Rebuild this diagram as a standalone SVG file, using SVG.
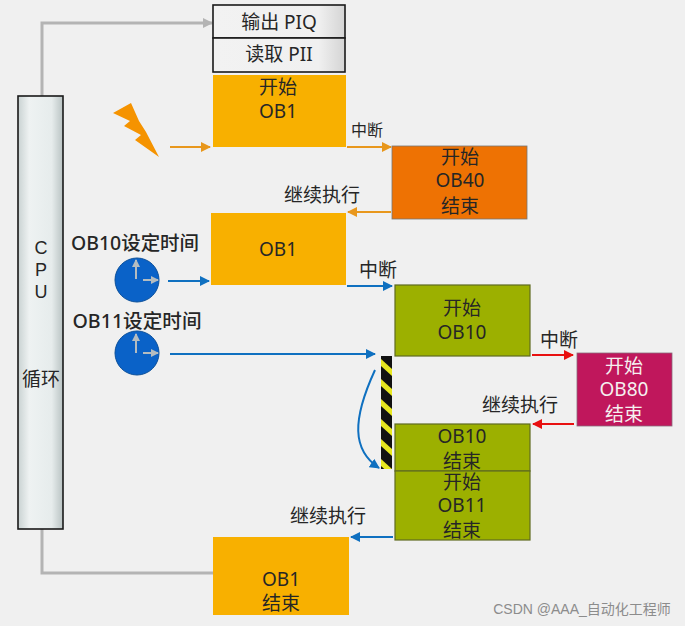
<svg xmlns="http://www.w3.org/2000/svg" width="685" height="626" viewBox="0 0 685 626">
<style>
text{font-family:"Noto Sans","Noto Sans CJK SC",sans-serif;fill:#262626;text-anchor:middle}
.l{font-size:19px}
.s{font-size:19px}
.u{font-size:18px;font-family:"Liberation Sans","Noto Sans CJK SC",sans-serif}
.c{fill:none;stroke-width:2}
.g{fill:none;stroke-width:3}
.or{fill:#f8b000;stroke:none}
.gr{fill:#9cb000;stroke:#5f6b20;stroke-width:1.2}
.io{fill:url(#io);stroke:#1a1a1a;stroke-width:1.6}
.clk{fill:#0a62c8;stroke:#0a4f9a}
.h{stroke:#b4bcc0;stroke-width:2;fill:none}
</style>
<defs>
<linearGradient id="cpu" x1="0" x2="1" y1="0" y2="0"><stop offset="0" stop-color="#c9d2d2"/><stop offset=".25" stop-color="#eef2f2"/><stop offset=".75" stop-color="#e6ecec"/><stop offset="1" stop-color="#b9c3c3"/></linearGradient>
<linearGradient id="io" x1="0" x2="1" y1="0" y2="0"><stop offset="0" stop-color="#f2f2f2"/><stop offset=".8" stop-color="#f0f0f0"/><stop offset="1" stop-color="#d4d4d4"/></linearGradient>
<pattern id="stripe" width="11" height="20" patternUnits="userSpaceOnUse" patternTransform="translate(381 356)"><rect width="11" height="20" fill="#111"/><path d="M0 3L11 13V20L0 10Z" fill="#e8e820"/></pattern>
<marker id="ao" markerWidth="10" markerHeight="10" refX="9" refY="5" orient="auto" markerUnits="userSpaceOnUse"><path d="M0 0L10 5L0 10Z" fill="#e8971c"/></marker>
<marker id="ab" markerWidth="10" markerHeight="10" refX="9" refY="5" orient="auto" markerUnits="userSpaceOnUse"><path d="M0 0L10 5L0 10Z" fill="#0f70c0"/></marker>
<marker id="ar" markerWidth="10" markerHeight="10" refX="9" refY="5" orient="auto" markerUnits="userSpaceOnUse"><path d="M0 0L10 5L0 10Z" fill="#e81010"/></marker>
<marker id="ag" markerWidth="10" markerHeight="10" refX="9" refY="5" orient="auto" markerUnits="userSpaceOnUse"><path d="M0 0L10 5L0 10Z" fill="#b4b4b4"/></marker>
<marker id="aw" markerWidth="8" markerHeight="8" refX="7" refY="4" orient="auto" markerUnits="userSpaceOnUse"><path d="M0 0L8 4L0 8Z" fill="#b4bcc0"/></marker>
</defs>
<rect width="685" height="626" fill="#f0f0f0"/>
<g id="connectors">
<path class="g" d="M42 96V23H212" stroke="#b4b4b4" marker-end="url(#ag)"/>
<path class="g" d="M42 529V573H214" stroke="#b4b4b4"/>
<path class="c" d="M170 147H210" stroke="#e8971c" marker-end="url(#ao)"/>
<path class="c" d="M347 147H391" stroke="#e8971c" marker-end="url(#ao)"/>
<path class="c" d="M391 212H348" stroke="#e8971c" marker-end="url(#ao)"/>
<path class="c" d="M168 281H209" stroke="#0f70c0" marker-end="url(#ab)"/>
<path class="c" d="M347 286H392" stroke="#0f70c0" marker-end="url(#ab)"/>
<path class="c" d="M170 354H375" stroke="#0f70c0" marker-end="url(#ab)"/>
<path class="c" d="M375 370C352 420 352 450 379 468" stroke="#0f70c0" marker-end="url(#ab)"/>
<path class="c" d="M393 537H351" stroke="#0f70c0" marker-end="url(#ab)"/>
<path class="c" d="M532 355H573" stroke="#e81010" marker-end="url(#ar)"/>
<path class="c" d="M574 424H533" stroke="#e81010" marker-end="url(#ar)"/>
</g>
<g id="cpu-node"><rect x="18" y="96" width="45" height="433" fill="url(#cpu)" stroke="#1a1a1a" stroke-width="1.6"/>
<text class="u" x="41" y="254">C</text><text class="u" x="41" y="276">P</text><text class="u" x="41" y="298">U</text><text class="l" x="41" y="386">循环</text></g>
<g id="piq"><rect class="io" x="213" y="5" width="132" height="33"/><text class="l" x="279" y="29">输出 PIQ</text></g>
<g id="pii"><rect class="io" x="213" y="38" width="132" height="34"/><text class="s" x="279" y="61">读取 PII</text></g>
<g id="ob1-start"><rect class="or" x="213" y="75" width="133" height="72"/><text class="l" x="278" y="94">开始</text><text class="l" x="278" y="118">OB1</text></g>
<g id="bolt"><path d="M113 113L131 103L139 121L146 132L159 157L135 140L141 135L124 126L130 121Z" fill="#f59300"/></g>
<g id="ob40"><rect x="392" y="146" width="135" height="73" fill="#ee7203" stroke="#777" stroke-width=".8"/><text class="l" x="460" y="164">开始</text><text class="l" x="460" y="187">OB40</text><text class="l" x="460" y="213">结束</text></g>
<g id="ob1-mid"><rect class="or" x="211" y="213" width="135" height="72"/><text class="l" x="278" y="256">OB1</text></g>
<g id="clock10"><circle class="clk" cx="137" cy="280" r="22"/><path class="h" d="M136 279V260" marker-end="url(#aw)"/><path class="h" d="M143 280H158" marker-end="url(#aw)"/></g>
<g id="clock11"><circle class="clk" cx="137" cy="353" r="22"/><path class="h" d="M136 353V334" marker-end="url(#aw)"/><path class="h" d="M143 353H158" marker-end="url(#aw)"/></g>
<g id="ob10-start"><rect class="gr" x="395" y="285" width="135" height="71"/><text class="l" x="462" y="315">开始</text><text class="l" x="462" y="339">OB10</text></g>
<g id="ob80"><rect x="577" y="353" width="95" height="73" fill="#c0175c" stroke="#8b6a7a" stroke-width=".8"/><text class="l" x="624" y="373" style="fill:#f5f0f0">开始</text><text class="l" x="624" y="396" style="fill:#f5f0f0">OB80</text><text class="l" x="624" y="421" style="fill:#f5f0f0">结束</text></g>
<g id="stripe-bar"><rect x="381" y="356" width="11" height="113" fill="url(#stripe)"/></g>
<g id="ob10-end"><rect class="gr" x="395" y="424" width="135" height="47"/><text class="l" x="462" y="443">OB10</text><text class="l" x="462" y="468">结束</text></g>
<g id="ob11"><rect class="gr" x="395" y="471" width="135" height="69"/><text class="l" x="462" y="489">开始</text><text class="l" x="462" y="512">OB11</text><text class="l" x="462" y="537">结束</text></g>
<g id="ob1-end"><rect class="or" x="213" y="537" width="136" height="78"/><text class="l" x="281" y="586">OB1</text><text class="l" x="281" y="610">结束</text></g>
<g id="labels">
<text x="135" y="250" font-size="19" font-weight="500" textLength="128" lengthAdjust="spacingAndGlyphs">OB10设定时间</text>
<text x="137" y="328" font-size="19" font-weight="500" textLength="129" lengthAdjust="spacingAndGlyphs">OB11设定时间</text>
<text x="367" y="136" font-size="16">中断</text>
<text class="s" x="322" y="202">继续执行</text>
<text class="s" x="378" y="277">中断</text>
<text class="s" x="559" y="347">中断</text>
<text class="s" x="520" y="412">继续执行</text>
<text class="s" x="328" y="523">继续执行</text>
<text x="582" y="614" font-size="14" style="fill:#8c8c8c;font-family:'Liberation Sans','Noto Sans CJK SC',sans-serif">CSDN @AAA_自动化工程师</text>
</g>
</svg>
